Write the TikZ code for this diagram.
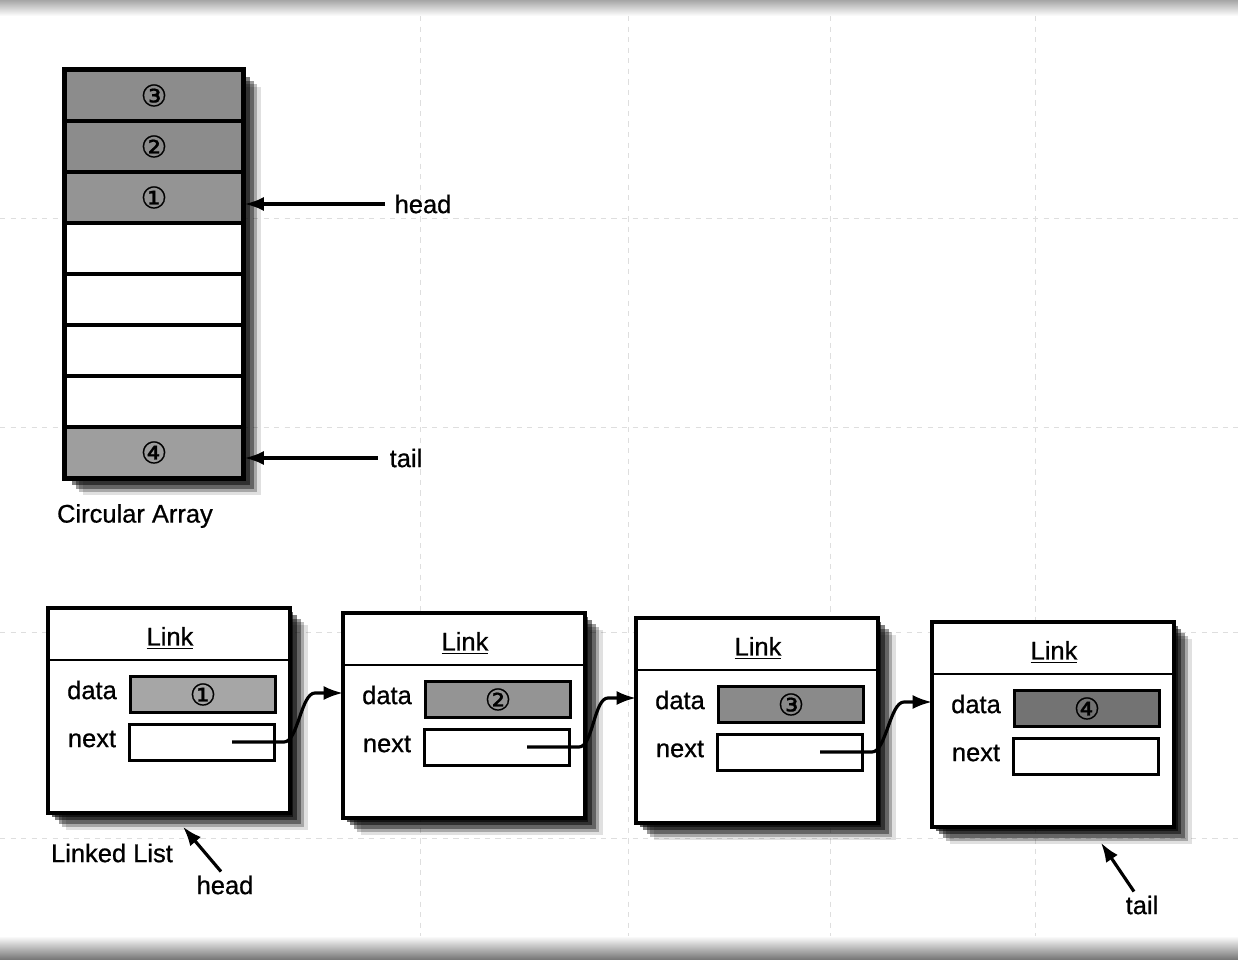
\documentclass[tikz,border=0pt]{standalone}
\usepackage{fontspec}
\setmainfont{Liberation Sans}
\newfontfamily\lab{Liberation Sans}[FakeBold=0.7]
\newfontfamily\symf{DejaVu Sans}[FakeBold=0.6]
\usetikzlibrary{shadows,arrows.meta,calc}
\tikzset{
  shad/.style={
    drop shadow={shadow xshift=2pt,shadow yshift=-2pt,fill=black,opacity=.6},
    drop shadow={shadow xshift=4pt,shadow yshift=-4pt,fill=black,opacity=.5},
    drop shadow={shadow xshift=6pt,shadow yshift=-6pt,fill=black,opacity=.4},
    drop shadow={shadow xshift=8pt,shadow yshift=-8pt,fill=black,opacity=.25},
    drop shadow={shadow xshift=10pt,shadow yshift=-9.5pt,fill=black,opacity=.12}},
  txt/.style={font=\lab\fontsize{14.5}{16}\selectfont, inner sep=1pt},
  num/.style={font=\symf\fontsize{17}{18}\selectfont},
  cell/.style={draw, line width=1.8pt, minimum width=3.56cm, minimum height=1.02cm, inner sep=0pt, num},
  frame/.style={draw, line width=2pt, fill=white, inner sep=0pt},
  field/.style={draw, line width=1.7pt, minimum width=2.9cm, minimum height=0.72cm, inner sep=0pt, num},
  ptr/.style={line width=1.8pt, -{Latex[length=11pt,width=8pt]}},
  grid/.style={black!13, dashed, line width=0.4pt}
}
\begin{document}
\begin{tikzpicture}[x=0.02cm,y=-0.02cm]
\useasboundingbox (0,0) rectangle (1238,960);
\fill[white] (0,0) rectangle (1238,960);
% scan edges
\shade[top color=black!35, bottom color=white] (0,0) rectangle (1238,16);
\shade[top color=white, bottom color=black!55] (0,936) rectangle (1238,960);
% faint graph-paper grid
\foreach \gx in {420,628,830,1035} \draw[grid] (\gx,16) -- (\gx,936);
\foreach \gy in {218,427,632,838} \draw[grid] (0,\gy) -- (1238,\gy);

% ---------- Circular array ----------
\node[frame, shad, minimum width=3.56cm, minimum height=8.16cm] (arr) at (154,274) {};
\node[cell, fill=black!45] (c3) at (154,95.5) {③};
\node[cell, fill=black!45] (c2) at (154,146.5) {②};
\node[cell, fill=black!42] (c1) at (154,197.5) {①};
\node[cell, fill=white] (e1) at (154,248.5) {};
\node[cell, fill=white] (e2) at (154,299.5) {};
\node[cell, fill=white] (e3) at (154,350.5) {};
\node[cell, fill=white] (e4) at (154,401.5) {};
\node[cell, fill=black!38] (c4) at (154,452.5) {④};
\draw[line width=2pt] (arr.north west) rectangle (arr.south east);

\node[txt] (ahead) at (423,204) {head};
\node[txt] (atail) at (406,458) {tail};
\draw[ptr] (ahead.west) ++(-8,0) coordinate (ah0) -- (ah0 -| c1.east);
\draw[ptr] (atail.west) ++(-10,0) coordinate (at0) -- (at0 -| c4.east);
\node[txt] (carr) at (135,516) {Circular Array};

% ---------- Linked list ----------
\foreach \i/\L/\T/\g in {1/48/608/35, 2/343/613/42, 3/636/618/46, 4/932/622/55}{
  \node[frame, shad, minimum width=4.84cm, minimum height=4.1cm] (b\i) at (\L+121,\T+102.5) {};
  \draw[line width=1.7pt] (\L,\T+52) -- (\L+242,\T+52);
  \node[txt] (k\i) at (\L+122,\T+30) {\underline{Link}};
  \node[txt] (dl\i) at (\L+44,\T+82) {data};
  \node[txt] (nl\i) at (\L+44,\T+131) {next};
  \node[field, fill=black!\g] (d\i) at (\L+155,\T+86.5) {\ifcase\i\or ①\or ②\or ③\or ④\fi};
  \node[field, fill=white] (n\i) at (\L+154,\T+134.5) {};
  \coordinate (p\i) at (\L+184,\T+134);
  \coordinate (t\i) at (\L,\T+80);
}
\foreach \i/\j in {1/2,2/3,3/4}{
  \draw[ptr] (p\i) -- (p\i -| n\i.east) -- ++(8,0)
     .. controls +(14,0) and +(-14,0) .. ($(t\j)+(-28,0)$) -- (t\j);
}
\node[txt] (lst) at (112,853) {Linked List};
\node[txt] (lhead) at (225,885) {head};
\node[txt] (ltail) at (1142,905) {tail};
\coordinate (hx) at ($(b1.south)+(14,12)$);
\coordinate (tx) at ($(b4.south)+(48,14)$);
\draw[ptr] ($(lhead.north)+(-4,-2)$) -- (hx);
\draw[ptr] ($(ltail.north)+(-8,-2)$) -- (tx);
\end{tikzpicture}
\end{document}
